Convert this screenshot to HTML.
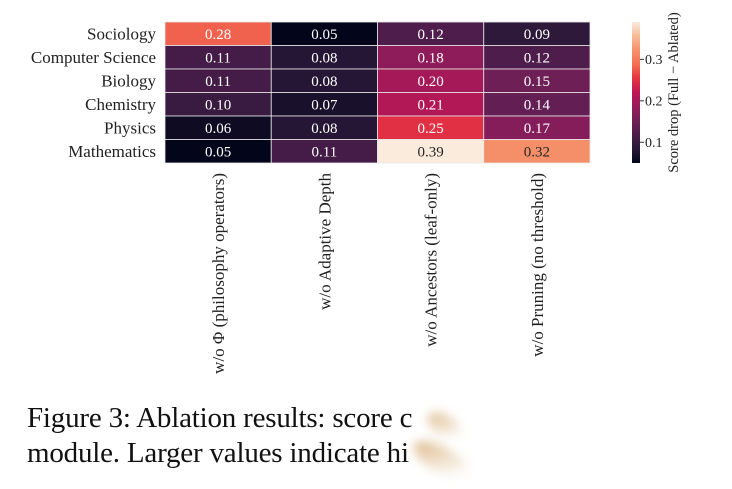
<!DOCTYPE html>
<html><head><meta charset="utf-8"><style>
body{margin:0;background:#fff;width:732px;height:482px;overflow:hidden;position:relative;font-family:"Liberation Serif","Times New Roman",serif}
.cap{position:absolute;left:27px;font-size:29px;color:#111;white-space:nowrap;letter-spacing:-0.2px}
.smudge{position:absolute;border-radius:50%;filter:blur(5px);background:linear-gradient(135deg,#d9b27e,#fff 80%)}
</style></head><body>
<svg id="chart" width="732" height="400" style="position:absolute;left:0;top:0" font-family="'Liberation Serif', 'Times New Roman', serif">
<defs><linearGradient id="cbg" x1="0" y1="1" x2="0" y2="0"></linearGradient></defs>
<g id="cells"></g><g id="rowlabels"></g><g id="collabels"></g><g id="cbar"></g>
</svg>
<div class="cap" style="top:402px">Figure 3: Ablation results: score c</div>
<div class="cap" style="top:437px">module. Larger values indicate hi</div>
<div class="smudge" style="left:425px;top:416px;width:40px;height:22px;transform:rotate(35deg)"></div>
<div class="smudge" style="left:410px;top:448px;width:65px;height:26px;transform:rotate(30deg)"></div>
<script>
const rows=["Sociology","Computer Science","Biology","Chemistry","Physics","Mathematics"];
const cols=["w/o Φ (philosophy operators)","w/o Adaptive Depth","w/o Ancestors (leaf-only)","w/o Pruning (no threshold)"];
const values=[[0.28,0.05,0.12,0.09],[0.11,0.08,0.18,0.12],[0.11,0.08,0.20,0.15],[0.10,0.07,0.21,0.14],[0.06,0.08,0.25,0.17],[0.05,0.11,0.39,0.32]];
const cbTicks=[0.1,0.2,0.3];
const vmin=0.05,vmax=0.39;
const X0=165,X1=590,Y0=22,Y1=163;
const cw=(X1-X0)/cols.length,rh=(Y1-Y0)/rows.length;
const stops=[[3,5,26],[40,24,56],[76,29,75],[112,31,87],[150,27,91],[190,22,84],[230,52,66],[243,112,80],[245,145,108],[246,186,151],[250,235,221]];
function cmap(v){let t=Math.max(0,Math.min(1,(v-vmin)/(vmax-vmin)))*(stops.length-1);let i=Math.min(Math.floor(t),stops.length-2),f=t-i;const c=stops[i].map((a,k)=>Math.round(a+(stops[i+1][k]-a)*f));return `rgb(${c})`;}
const NS="http://www.w3.org/2000/svg";
function mk(tag,attrs,parent){const e=document.createElementNS(NS,tag);for(const k in attrs)e.setAttribute(k,attrs[k]);parent.appendChild(e);return e;}
const xs=j=>X0+j*cw, ys=i=>Y0+i*rh;
const cells=document.getElementById('cells');
values.forEach((r,i)=>r.forEach((v,j)=>{
 const rc=mk('rect',{x:xs(j),y:ys(i),width:cw,height:rh,fill:cmap(v),stroke:'#e8e8e8','stroke-width':0.8},cells);
 
 
 const t=mk('text',{x:xs(j)+cw/2,y:ys(i)+rh/2+5,'text-anchor':'middle','font-size':15,fill:(v-vmin)/(vmax-vmin)>0.72?'#262626':'#fff'},cells);
 t.textContent=v.toFixed(2);
 
 
}));
const rl=document.getElementById('rowlabels');
rows.forEach((r,i)=>{const t=mk('text',{x:156,y:ys(i)+rh/2+5.5,'text-anchor':'end','font-size':17,fill:'#222'},rl);t.textContent=r;
 
 });
const cl=document.getElementById('collabels');
cols.forEach((c,j)=>{const cx=xs(j)+cw/2+6;const t=mk('text',{x:0,y:0,transform:`translate(${cx},173) rotate(-90)`,'text-anchor':'end','font-size':17,fill:'#222'},cl);t.textContent=c;
 
 });
const g=document.getElementById('cbg');
stops.forEach((s,k)=>mk('stop',{offset:k/(stops.length-1),'stop-color':`rgb(${s})`},g));
const cb=document.getElementById('cbar');
const CBX=632,CBW=8;
const cr=mk('rect',{x:CBX,y:Y0,width:CBW,height:Y1-Y0,fill:'url(#cbg)'},cb);


const cy=v=>Y1-(v-vmin)/(vmax-vmin)*(Y1-Y0);
cbTicks.forEach(v=>{mk('line',{x1:CBX+CBW,x2:CBX+CBW+4,y1:cy(v),y2:cy(v),stroke:'#333'},cb);
 const t=mk('text',{x:CBX+CBW+5,y:cy(v)+4.5,'font-size':14,fill:'#222'},cb);t.textContent=v.toFixed(1);
 
 });
const ct=mk('text',{transform:`translate(678,${(Y0+Y1)/2}) rotate(-90)`,'text-anchor':'middle','font-size':14.5,fill:'#222'},cb);
ct.textContent='Score drop (Full − Ablated)';


</script>
</body></html>
